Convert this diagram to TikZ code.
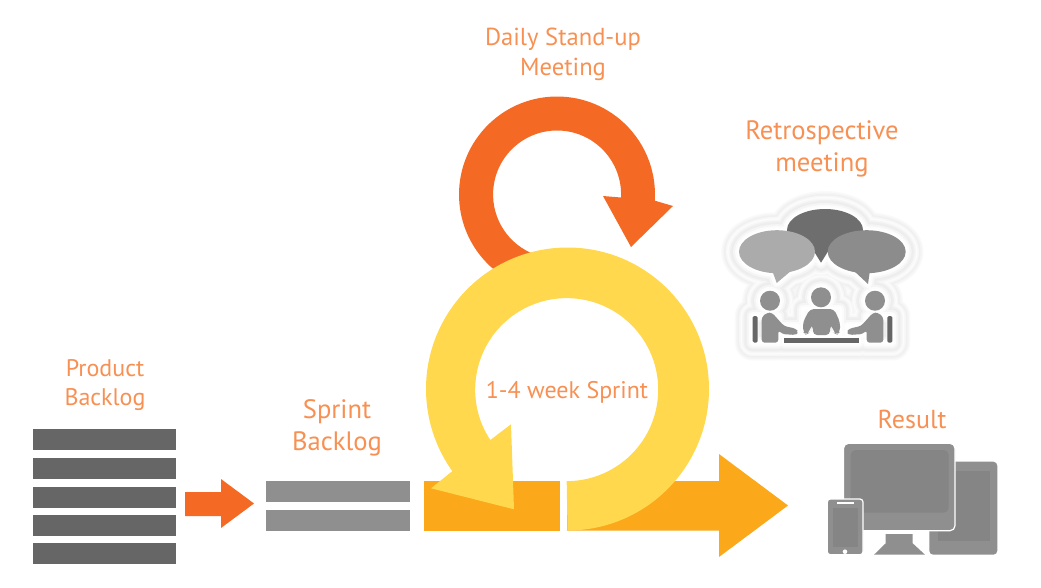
\documentclass[tikz,border=0pt]{standalone}
\usepackage{fontspec}
\setmainfont{PT Sans}
\definecolor{ringorange}{HTML}{F46A25}
\definecolor{ringyellow}{HTML}{FFD84D}
\definecolor{amber}{HTML}{FBA81B}
\definecolor{labelc}{HTML}{F79052}
\definecolor{bardark}{HTML}{666666}
\definecolor{barmid}{HTML}{8F8F8F}
\definecolor{bubL}{HTML}{ABABAB}
\definecolor{bubR}{HTML}{8C8C8C}
\definecolor{screenc}{HTML}{858585}
\tikzset{
 lab/.style={text=labelc,align=center,inner sep=0pt},
 labfont/.style 2 args={font=\fontsize{#1}{#2}\selectfont},
 haloline/.style 2 args={color=black!#2,line width=#1pt,line join=round},
}
\newcommand{\iconoutline}{
 (825,230) ellipse [x radius=38,y radius=21]
 (777,251.7) ellipse [x radius=38,y radius=21.5]
 (866.7,251.7) ellipse [x radius=39,y radius=21.5]
 (810,245)--(821,262.7)--(832,245)--cycle
 (772,270)--(776.7,283)--(792,270)--cycle
 (853,270)--(868,284)--(870,270)--cycle
 (770,300.7) circle [radius=10]
 (821,297.3) circle [radius=10]
 (875,300.7) circle [radius=10]
 (752.7,316) rectangle (778.3,342.7)
 (866.7,316) rectangle (892.3,342.7)
 (778,326) rectangle (798,335)
 (847,326) rectangle (867,335)
 (803,309) rectangle (840,335)
 (784,338) rectangle (859,342.7)}
\begin{document}
\begin{tikzpicture}[yscale=-1,x=1pt,y=1pt]
\useasboundingbox (0,0) rectangle (1041,587);
% backlog bars
\foreach \y in {429,458,487,515,543} \fill[bardark] (33,\y) rectangle (176,\y+21);
\foreach \y in {481,510} \fill[barmid] (266,\y) rectangle (410,\y+21);
% small arrow
\fill[ringorange] (185,492)--(221,492)--(221,479)--(254,503.5)--(221,528)--(221,516)--(185,516)--cycle;
% amber
\fill[amber] (424,481) rectangle (560.3,530.7);
\fill[amber] (567,481)--(719,481)--(719,454)--(788,505.5)--(719,557)--(719,530.7)--(567,530.7)--cycle;
% orange ring
\fill[ringorange] (557,194.5) ++(130:98) arc[start angle=130,end angle=363.6,radius=98]
  -- (673,206) -- (631,247) -- (603,196) -- (621,197.5)
  arc[start angle=362.7,end angle=110,radius=64] -- cycle;
% yellow ring
\fill[ringyellow] (567.5,389) ++(90:141.5) arc[start angle=90,end angle=-215.5,radius=141.5]
  -- (431,488.3) -- (514,509.3) -- (511,424.3) -- (490.3,440)
  arc[start angle=-213.4,end angle=90,radius=91.5] -- cycle;
% retrospective halo (soft rings)
\draw[haloline={36}{2}] \iconoutline;
\draw[haloline={33}{4}] \iconoutline;
\draw[haloline={30}{6}] \iconoutline;
\draw[haloline={27}{3}] \iconoutline;
\draw[haloline={24}{1}] \iconoutline;
\draw[haloline={21}{3}] \iconoutline;
\draw[haloline={18}{6}] \iconoutline;
\draw[haloline={15}{7}] \iconoutline;
\draw[haloline={12}{4}] \iconoutline;
\draw[haloline={8}{1}] \iconoutline;
\draw[haloline={4}{0}] \iconoutline;
% bubbles
\fill[bardark!95!white] (825,230) ellipse [x radius=38,y radius=21];
\fill[bardark!95!white] (810,245)--(821,262.7)--(832,245)--cycle;
\fill[bubL] (777,251.7) ellipse [x radius=38,y radius=21.5];
\fill[bubL] (772,270)--(776.7,283)--(792,270)--cycle;
\fill[bubR] (866.7,251.7) ellipse [x radius=39,y radius=21.5];
\fill[bubR] (853,270)--(868,284)--(870,270)--cycle;
% people
\foreach \x/\y in {770/300.7,821/297.3,875/300.7} \fill[barmid] (\x,\y) circle [radius=10];
\fill[barmid,rounded corners=3pt] (761.7,342.7)--(761.7,317)--(767,312.7)--(772,312.7)--(784,326)--(796,328.7)--(798.3,332)--(796,335)--(782,334)--(778.3,330)--(778.3,342.7)--cycle;
\fill[barmid,rounded corners=3pt] (883.3,342.7)--(883.3,317)--(878,312.7)--(873,312.7)--(861,326)--(849,328.7)--(846.7,332)--(849,335)--(863,334)--(866.7,330)--(866.7,342.7)--cycle;
\fill[barmid,rounded corners=4pt] (813,335)--(813,325)--(811,325)--(809,333)--(806,334.5)--(803,332)--(803,322)--(810,309)--(834,309)--(840,322)--(840,332)--(837,334.5)--(834,333)--(832,325)--(830,325)--(830,335)--cycle;
\fill[bardark,rounded corners=1.5pt] (752.7,316) rectangle (757.7,342.7);
\fill[bardark,rounded corners=1.5pt] (887.3,316) rectangle (892.3,342.7);
\fill[bardark] (784,338.3) rectangle (859,342.7);
% result icon
\fill[barmid,rounded corners=4pt] (929.3,461.7) rectangle (997.3,554.7);
\fill[screenc] (938,470.7) rectangle (990,541);
\filldraw[fill=barmid,rounded corners=5pt,draw=white,line width=1.2pt] (843.5,443.3) rectangle (955,530.7);
\fill[screenc,rounded corners=5pt] (850.7,450) rectangle (948.7,512.7);
\fill[barmid] (885.7,534)--(912.7,534)--(912.7,543.3)--(925,554.7)--(874,554.7)--(885.7,543.3)--cycle;
\filldraw[fill=barmid,rounded corners=3pt,draw=white,line width=1.2pt] (827.3,499) rectangle (863,554.7);
\fill[screenc] (832.7,507.7) rectangle (858.3,547.3);
\fill[white] (836.7,502) rectangle (854,504.3);
\fill[white] (845,551.7) circle [radius=2.3];
% labels
\node[lab,labfont={24.6}{30}] (daily) at (563,54) {Daily Stand-up\\Meeting};
\node[lab,labfont={26.6}{32}] (retro) at (822,149) {Retrospective\\meeting};
\node[lab,labfont={24}{29}] (product) at (105,385) {Product\\Backlog};
\node[lab,labfont={26.6}{32}] (sprint) at (337,428) {Sprint\\Backlog};
\node[lab,labfont={26}{32}] (result) at (912,419) {Result};
\node[lab,labfont={24}{30}] (week) at (567,392) {1-4 week Sprint};
\end{tikzpicture}
\end{document}
